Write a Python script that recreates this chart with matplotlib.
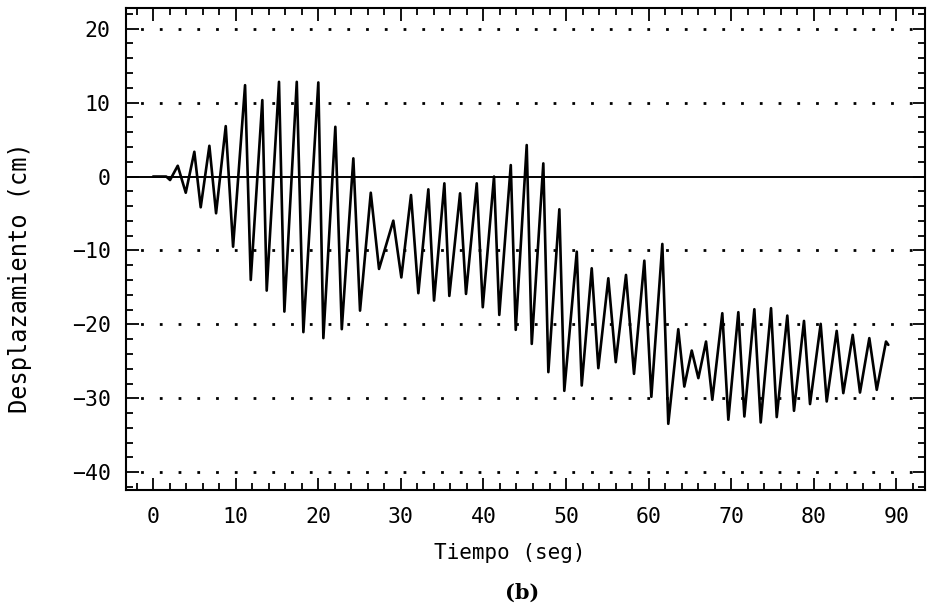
import matplotlib
matplotlib.use("Agg")
import matplotlib.pyplot as plt
from matplotlib.ticker import MultipleLocator

tiempo = [0.0, 1.6, 2.06, 2.99, 3.96, 5.00, 5.77, 6.82, 7.63, 8.80, 9.69,
          11.14, 11.83, 13.23, 13.76, 15.25, 15.90, 17.40, 18.20, 20.01, 20.62,
          22.07, 22.85, 24.25, 25.06, 26.36, 27.36, 29.09, 30.06, 31.23, 32.12,
          33.33, 34.02, 35.27, 35.87, 37.17, 37.89, 39.19, 39.92, 41.28, 41.92,
          43.31, 43.91, 45.24, 45.85, 47.25, 47.86, 49.19, 49.79, 51.30, 51.90,
          53.11, 53.91, 55.12, 56.02, 57.26, 58.23, 59.48, 60.33, 61.66, 62.38,
          63.59, 64.32, 65.22, 66.02, 66.95, 67.71, 68.92, 69.65, 70.86, 71.59,
          72.80, 73.57, 74.82, 75.51, 76.79, 77.60, 78.81, 79.54, 80.83, 81.56,
          82.77, 83.57, 84.71, 85.59, 86.72, 87.62, 88.74, 89.02]
desplazamiento = [0.0, 0.0, -0.47, 1.46, -2.19, 3.35, -4.16, 4.16, -4.97, 6.82, -9.49,
                  12.36, -13.99, 10.34, -15.43, 12.81, -18.27, 12.81, -21.05, 12.73, -21.86,
                  6.73, -20.65, 2.46, -18.14, -2.19, -12.5, -5.97, -13.65, -2.5, -15.78,
                  -1.73, -16.78, -0.92, -16.15, -2.27, -15.88, -0.92, -17.68, 0.0, -18.72,
                  1.55, -20.74, 4.26, -22.64, 1.78, -26.46, -4.43, -28.99, -10.16, -28.27,
                  -12.41, -25.92, -13.76, -25.11, -13.31, -26.69, -11.38, -29.8, -9.12, -33.45,
                  -20.65, -28.41, -23.54, -27.27, -22.32, -30.2, -18.49, -32.9, -18.35, -32.46,
                  -17.95, -33.27, -17.81, -32.54, -18.81, -31.69, -19.53, -30.78, -19.93, -30.43,
                  -20.88, -29.3, -21.42, -29.22, -21.86, -28.85, -22.32, -22.77]

x_ticks = [0, 10, 20, 30, 40, 50, 60, 70, 80, 90]
y_ticks = [-40, -30, -20, -10, 0, 10, 20]
y_labels = ["\u221240", "\u221230", "\u221220", "\u221210", "0", "10", "20"]
filas_puntos = [-40, -30, -20, -10, 10, 20]

fig = plt.figure(figsize=(9.35, 6.15), dpi=100)
ax = fig.add_axes([0.1348, 0.2033, 0.8545, 0.7837])

# filas de puntos y linea de cero
for yv in filas_puntos:
    ax.axhline(yv, color="black", lw=2.0, linestyle=(1.5, (1, 5.75)))
ax.axhline(0, color="black", lw=1.4)

ax.plot(tiempo, desplazamiento, color="black", lw=1.9,
        solid_joinstyle="round", solid_capstyle="round")

ax.set_xlim(-3.27, 93.46)
ax.set_ylim(-42.4, 22.8)
ax.set_xticks(x_ticks)
ax.set_yticks(y_ticks)
ax.set_yticklabels(y_labels)
ax.xaxis.set_minor_locator(MultipleLocator(2))
ax.yaxis.set_minor_locator(MultipleLocator(2))
ax.tick_params(which="both", direction="in", top=True, right=True, width=1.3)
ax.tick_params(which="major", length=9)
ax.tick_params(which="minor", length=5)
ax.tick_params(axis="x", pad=12)
ax.tick_params(axis="y", pad=11)
for s in ax.spines.values():
    s.set_linewidth(1.5)

fuente = "DejaVu Sans Mono"
for lab in ax.get_xticklabels() + ax.get_yticklabels():
    lab.set_family(fuente)
    lab.set_fontsize(15.5)

ax.set_xlabel("Tiempo (seg)", family=fuente, fontsize=15)
ax.xaxis.set_label_coords(0.48, -0.131)
ax.xaxis.label.set_va("center")
ax.set_ylabel("Desplazamiento (cm)", family=fuente, fontsize=17)
ax.yaxis.set_label_coords(-0.133, 0.44)
ax.yaxis.label.set_va("center")

fig.text(0.558, 0.036, "(b)", family="DejaVu Serif", fontweight="bold",
         fontsize=15, ha="center", va="center")

fig.savefig("out.png", dpi=100)
